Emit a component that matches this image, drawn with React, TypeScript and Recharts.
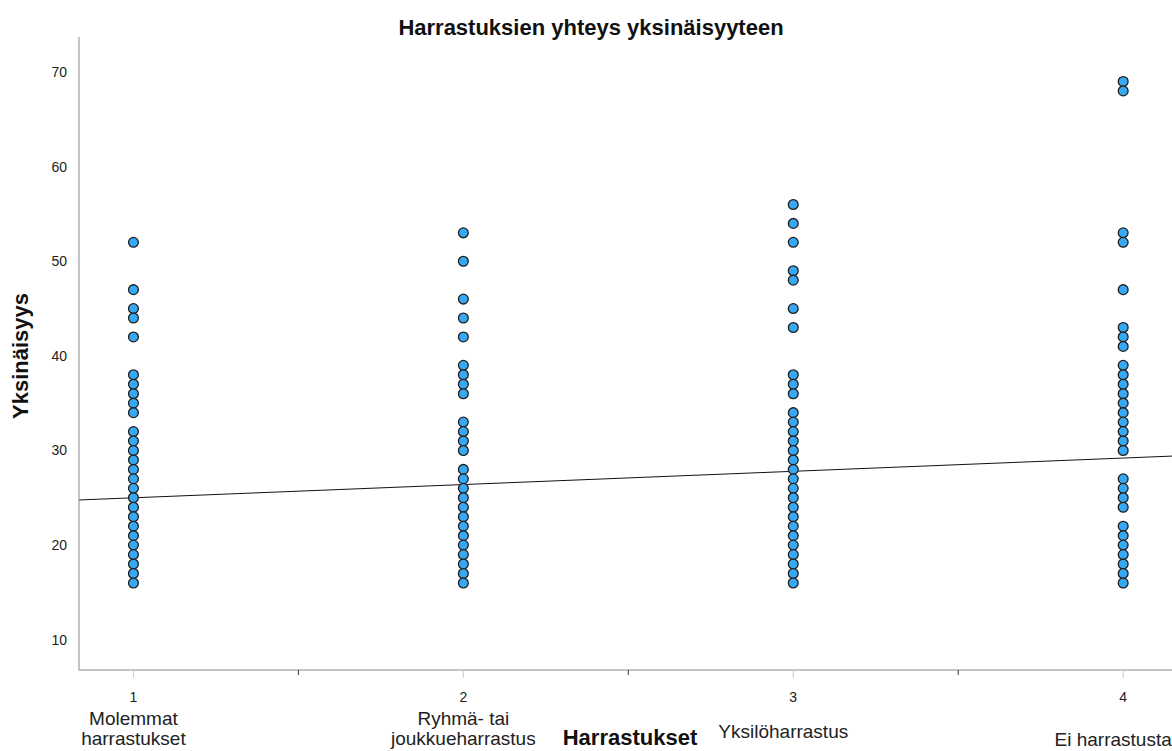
import { ScatterChart, Scatter, XAxis, YAxis, ReferenceLine } from 'recharts';

// hobby groups on the x axis
const groups = [1, 2, 3, 4];
const groupLabels = [['Molemmat', 'harrastukset'], ['Ryhmä- tai', 'joukkueharrastus'], ['Yksilöharrastus'], ['Ei harrastusta']];

// loneliness scores read per group
const bothHobbies = [52, 47, 45, 44, 42, 38, 37, 36, 35, 34, 32, 31, 30, 29, 28, 27, 26, 25, 24, 23, 22, 21, 20, 19, 18, 17, 16];
const groupHobby = [53, 50, 46, 44, 42, 39, 38, 37, 36, 33, 32, 31, 30, 28, 27, 26, 25, 24, 23, 22, 21, 20, 19, 18, 17, 16];
const soloHobby = [56, 54, 52, 49, 48, 45, 43, 38, 37, 36, 34, 33, 32, 31, 30, 29, 28, 27, 26, 25, 24, 23, 22, 21, 20, 19, 18, 17, 16];
const noHobby = [69, 68, 53, 52, 47, 43, 42, 41, 39, 38, 37, 36, 35, 34, 33, 32, 31, 30, 27, 26, 25, 24, 22, 21, 20, 19, 18, 17, 16];

const yTicks = [10, 20, 30, 40, 50, 60, 70];
const xTicks = [1, 1.5, 2, 2.5, 3, 3.5, 4];

// fit line
const fitIntercept = 23.6;
const fitSlope = 1.4;

const xDomain = [0.835, 4.148];
const yDomain = [6.8, 73.7];

const W = 1172;
const H = 751;
const FONT = '"Liberation Sans", Arial, sans-serif';

const points = [bothHobbies, groupHobby, soloHobby, noHobby].flatMap((vals, i) =>
  vals.map((v) => ({ x: groups[i], y: v }))
);

const Dot = (props: any) => {
  const { cx, cy } = props;
  if (cx == null || cy == null) return null;
  return <circle cx={cx} cy={cy} r={4.9} fill="#38a8f2" stroke="#1e1e1e" strokeWidth={1.3} />;
};

const XTick = (props: any) => {
  const { x, y, payload } = props;
  const v = payload.value;
  const idx = groups.indexOf(v);
  if (idx < 0) {
    return <line x1={x} x2={x} y1={y} y2={y + 5} stroke="#333" strokeWidth={1} />;
  }
  const lines = groupLabels[idx];
  const single = lines.length === 1;
  return (
    <g>
      <line x1={x} x2={x} y1={y} y2={y + 8} stroke="#c8c8c8" strokeWidth={1} />
      <text x={x} y={y + 32} textAnchor="middle" fontSize={14} fontFamily={FONT} fill="#222">
        {v}
      </text>
      {single ? (
        <text x={x - 10} y={y + (idx === 2 ? 68 : 76)} textAnchor="middle" fontSize={19} fontFamily={FONT} fill="#222">
          {lines[0]}
        </text>
      ) : (
        lines.map((t, j) => (
          <text key={j} x={x} y={y + 55 + j * 20} textAnchor="middle" fontSize={19} fontFamily={FONT} fill="#222">
            {t}
          </text>
        ))
      )}
    </g>
  );
};

export default function App() {
  return (
    <div style={{ position: 'relative', width: W, height: H }}>
      <style>{'body{margin:0}'}</style>
      <ScatterChart width={W} height={H} margin={{ top: 37, right: 0, bottom: 0, left: 0 }}>
        <XAxis
          type="number"
          dataKey="x"
          domain={xDomain}
          ticks={xTicks}
          allowDataOverflow
          height={81}
          tickSize={0}
          tickMargin={0}
          tickLine={false}
          tick={<XTick />}
          axisLine={{ stroke: '#8a8a8a' }}
          interval={0}
        />
        <YAxis
          type="number"
          dataKey="y"
          domain={yDomain}
          ticks={yTicks}
          allowDataOverflow
          width={79}
          tickSize={0}
          tickMargin={12}
          tickLine={false}
          axisLine={{ stroke: '#8a8a8a' }}
          tick={{ fontSize: 14, fontFamily: FONT, fill: '#222' }}
          interval={0}
        />
        <ReferenceLine
          segment={[
            { x: xDomain[0], y: fitIntercept + fitSlope * xDomain[0] },
            { x: xDomain[1], y: fitIntercept + fitSlope * xDomain[1] },
          ]}
          stroke="#111"
          strokeWidth={1}
        />
        <Scatter data={points} shape={<Dot />} isAnimationActive={false} />
      </ScatterChart>
      <svg width={W} height={H} style={{ position: 'absolute', left: 0, top: 0, pointerEvents: 'none' }}>
        <text x={591} y={35} textAnchor="middle" fontSize={22} fontWeight="bold" fontFamily={FONT} fill="#111">
          Harrastuksien yhteys yksinäisyyteen
        </text>
        <text x={630} y={745} textAnchor="middle" fontSize={22} fontWeight="bold" fontFamily={FONT} fill="#111">
          Harrastukset
        </text>
        <text
          x={0}
          y={0}
          transform="translate(28,356) rotate(-90)"
          textAnchor="middle"
          fontSize={22}
          fontWeight="bold"
          fontFamily={FONT}
          fill="#111"
        >
          Yksinäisyys
        </text>
      </svg>
    </div>
  );
}
